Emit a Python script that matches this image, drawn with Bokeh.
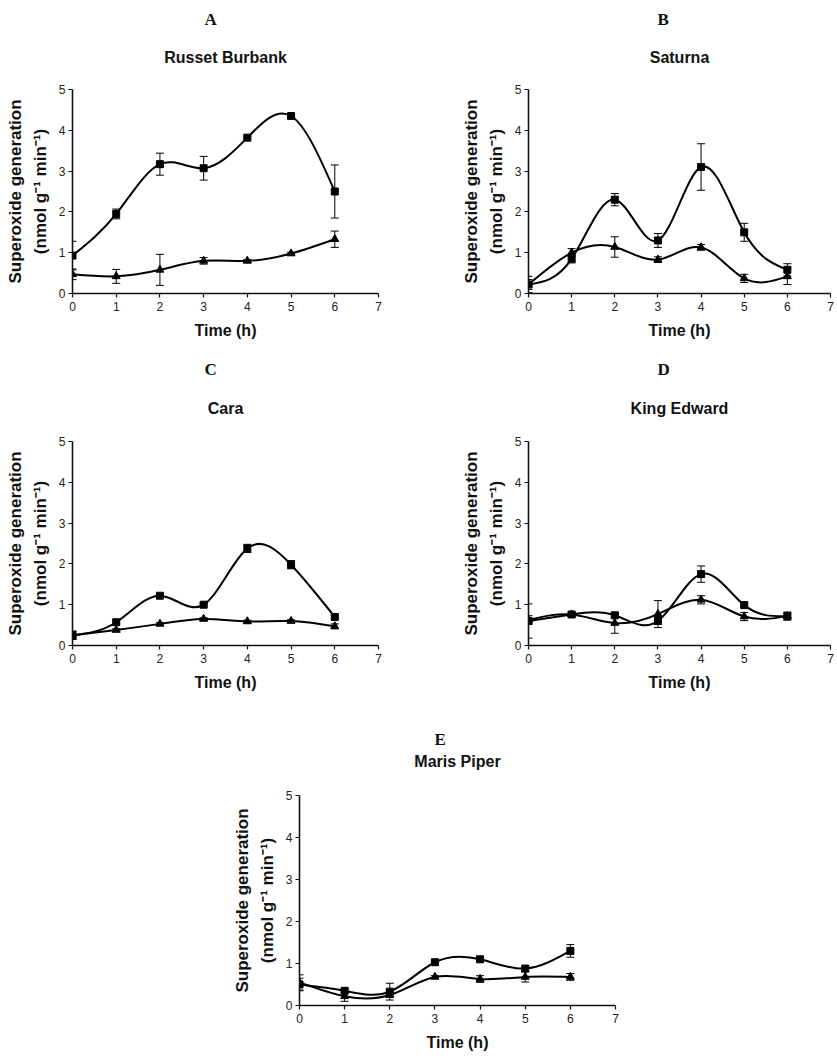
import numpy as np
from bokeh.plotting import figure
from bokeh.models import ColumnDataSource, Whisker, TeeHead, Title, FixedTicker, Spacer, Range1d
from bokeh.layouts import column, row
from bokeh.embed import file_html
from bokeh.resources import INLINE

time_h = [0, 1, 2, 3, 4, 5, 6]

# A: Russet Burbank
rb_square = [0.93, 1.95, 3.17, 3.07, 3.82, 4.35, 2.50]
rb_square_err = [0.35, 0.12, 0.27, 0.29, 0.04, 0.04, 0.65]
rb_triangle = [0.47, 0.42, 0.58, 0.80, 0.80, 0.98, 1.33]
rb_triangle_err = [0.13, 0.17, 0.38, 0.08, 0.03, 0.03, 0.20]

# B: Saturna
sa_square = [0.22, 0.85, 2.30, 1.30, 3.10, 1.50, 0.58]
sa_square_err = [0.20, 0.10, 0.15, 0.17, 0.57, 0.22, 0.15]
sa_triangle = [0.22, 1.00, 1.14, 0.83, 1.13, 0.37, 0.42]
sa_triangle_err = [0.12, 0.10, 0.25, 0.07, 0.07, 0.10, 0.20]

# C: Cara
ca_square = [0.25, 0.57, 1.22, 1.00, 2.38, 1.98, 0.70]
ca_square_err = [0.10, 0.04, 0.03, 0.03, 0.10, 0.10, 0.05]
ca_triangle = [0.25, 0.38, 0.53, 0.65, 0.59, 0.60, 0.47]
ca_triangle_err = [0.10, 0.03, 0.03, 0.03, 0.03, 0.03, 0.06]

# D: King Edward
ke_square = [0.60, 0.76, 0.74, 0.60, 1.75, 0.99, 0.72]
ke_square_err = [0.42, 0.04, 0.05, 0.08, 0.20, 0.04, 0.10]
ke_triangle = [0.63, 0.76, 0.55, 0.77, 1.12, 0.71, 0.72]
ke_triangle_err = [0.10, 0.05, 0.25, 0.33, 0.10, 0.10, 0.05]

# E: Maris Piper
mp_square = [0.50, 0.35, 0.33, 1.03, 1.10, 0.88, 1.30]
mp_square_err = [0.15, 0.05, 0.20, 0.03, 0.03, 0.07, 0.15]
mp_triangle = [0.55, 0.22, 0.25, 0.68, 0.63, 0.68, 0.68]
mp_triangle_err = [0.18, 0.12, 0.05, 0.03, 0.08, 0.12, 0.08]

x_ticks = [0, 1, 2, 3, 4, 5, 6, 7]
y_ticks = [0, 1, 2, 3, 4, 5]

SANS = "Liberation Sans"
SERIF = "Liberation Serif"


def spline_segments(xs, ys):
    """Natural cubic spline through the data points, as Bezier segments."""
    x = np.asarray(xs, float)
    y = np.asarray(ys, float)
    n = len(x)
    h = np.diff(x)
    A = np.zeros((n, n))
    r = np.zeros(n)
    A[0, 0] = A[-1, -1] = 1.0
    for i in range(1, n - 1):
        A[i, i - 1] = h[i - 1]
        A[i, i] = 2 * (h[i - 1] + h[i])
        A[i, i + 1] = h[i]
        r[i] = 6 * ((y[i + 1] - y[i]) / h[i] - (y[i] - y[i - 1]) / h[i - 1])
    M = np.linalg.solve(A, r)
    d = np.diff(y) / h
    s0 = d - h * (2 * M[:-1] + M[1:]) / 6
    s1 = d + h * (M[:-1] + 2 * M[1:]) / 6
    return dict(x0=x[:-1], y0=y[:-1], x1=x[1:], y1=y[1:],
                cx0=x[:-1] + h / 3, cy0=y[:-1] + s0 * h / 3,
                cx1=x[1:] - h / 3, cy1=y[1:] - s1 * h / 3)


def make_panel(letter, name, sq, sq_err, tr, tr_err, width, height,
               left, right, top, bottom, title_gap, letter_gap, letter_dx):
    p = figure(width=width, height=height, x_range=Range1d(0, 7), y_range=Range1d(0, 5),
               output_backend="svg", toolbar_location=None,
               min_border_left=left, min_border_right=right,
               min_border_top=top, min_border_bottom=bottom)
    p.outline_line_color = None
    p.xgrid.visible = False
    p.ygrid.visible = False
    p.background_fill_color = "white"
    p.border_fill_color = "white"

    for ax, ticks in ((p.xaxis, x_ticks), (p.yaxis, y_ticks)):
        ax.ticker = FixedTicker(ticks=ticks)
        ax.minor_tick_line_color = None
        ax.major_tick_in = 0
        ax.major_tick_out = 4
        ax.axis_line_width = 1.6
        ax.major_tick_line_width = 1.2
        ax.axis_line_color = "#111111"
        ax.major_tick_line_color = "#111111"
        ax.major_label_text_font = SANS
        ax.major_label_text_font_size = "12px"
        ax.major_label_text_color = "#222222"
        ax.axis_label_text_font = SANS
        ax.axis_label_text_font_style = "bold"
        ax.axis_label_text_color = "#111111"
    p.xaxis.axis_label = "Time (h)"
    p.xaxis.axis_label_text_font_size = "16px"
    p.xaxis.major_label_standoff = 4
    p.xaxis.axis_label_standoff = 8
    p.yaxis.axis_label = "Superoxide generation\n(nmol g\u207b\u00b9 min\u207b\u00b9)"
    p.yaxis.axis_label_text_font_size = "17px"
    p.yaxis.axis_label_text_line_height = 1.3
    p.yaxis.major_label_standoff = 3
    p.yaxis.axis_label_standoff = 6

    for vals, errs, marker, size in ((sq, sq_err, "square", 7), (tr, tr_err, "triangle", 8)):
        p.bezier(source=ColumnDataSource(spline_segments(time_h, vals)),
                 x0="x0", y0="y0", x1="x1", y1="y1",
                 cx0="cx0", cy0="cy0", cx1="cx1", cy1="cy1",
                 line_color="black", line_width=2)
        err_src = ColumnDataSource(dict(
            t=time_h,
            upper=[v + e for v, e in zip(vals, errs)],
            lower=[v - e for v, e in zip(vals, errs)]))
        p.add_layout(Whisker(source=err_src, base="t", upper="upper", lower="lower",
                             line_color="black", line_width=1,
                             upper_head=TeeHead(size=8, line_color="black", line_width=1),
                             lower_head=TeeHead(size=8, line_color="black", line_width=1)))
        p.scatter(time_h, vals, marker=marker, size=size, color="black")

    fw = width - left - right
    p.add_layout(Title(text=name, align="center", standoff=title_gap,
                       text_font=SANS, text_font_style="bold", text_font_size="16px",
                       text_color="#111111"), "above")
    p.add_layout(Title(text=letter, align="left", standoff=letter_gap,
                       offset=int(round(fw / 2 + letter_dx - 6)),
                       text_font=SERIF, text_font_style="bold", text_font_size="17px",
                       text_color="#111111"), "above")
    return p


pA = make_panel("A", "Russet Burbank", rb_square, rb_square_err, rb_triangle, rb_triangle_err,
                440, 352, 72, 62, 89, 59, 47, -10, -15)
pB = make_panel("B", "Saturna", sa_square, sa_square_err, sa_triangle, sa_triangle_err,
                395, 352, 88, 5, 89, 59, 47, -10, -16)
pC = make_panel("C", "Cara", ca_square, ca_square_err, ca_triangle, ca_triangle_err,
                440, 352, 72, 62, 89, 59, 50, -13, -15)
pD = make_panel("D", "King Edward", ke_square, ke_square_err, ke_triangle, ke_triangle_err,
                395, 352, 88, 5, 89, 59, 50, -13, -16)
pE = make_panel("E", "Maris Piper", mp_square, mp_square_err, mp_triangle, mp_triangle_err,
                438, 350, 72, 50, 91, 49, 52, -49, -17)

layout = column(row(pA, pB), row(pC, pD), row(Spacer(width=227, height=350), pE))

with open("out.html", "w") as f:
    f.write(file_html(layout, INLINE))
